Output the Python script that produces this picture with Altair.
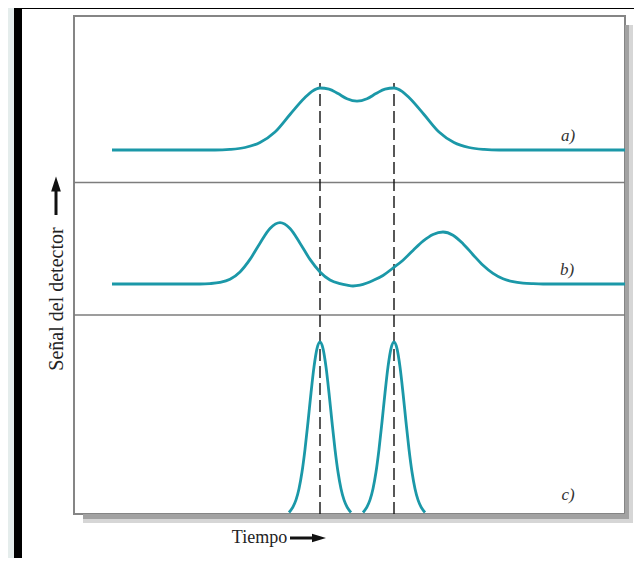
import altair as alt
import pandas as pd

# ---- data (time in arbitrary units, detector signal above each trace's baseline) ----
t_a = [38, 141, 156, 171, 186, 201, 216, 231, 238, 246, 255, 264, 273, 283, 293, 302,
       311, 320, 328, 335, 350, 365, 380, 395, 410, 425, 551]
s_a = [0, 0, 0.6, 2.5, 7.5, 18, 35.5, 52.4, 58.6, 62.0, 60.9, 56.4, 51.3, 48.9, 51.3, 56.4,
       60.9, 62.0, 58.6, 52.4, 35.5, 18, 7.5, 2.5, 0.6, 0, 0]

t_b = [38, 126, 136, 146, 156, 166, 176, 186, 196, 206, 216, 226, 236, 246, 256, 266,
       273, 279, 286, 293, 299, 309, 319, 329, 339, 349, 359, 369, 379, 389, 399, 409,
       419, 429, 439, 449, 459, 469, 551]
s_b = [0, 0, 0.4, 1.6, 4.8, 12.1, 24.6, 40.8, 55.4, 61.3, 55.4, 40.8, 24.6, 12.1, 4.0, 0.3,
       -1.2, -2.0, -1.2, 1.0, 3.5, 8.5, 16.0, 23.8, 33.5, 42.8, 49.5, 52.0, 48.8, 40.3, 29.3, 18.7,
       10.6, 5.2, 2.3, 0.9, 0.3, 0, 0]

t_c1 = [215, 219, 222, 225, 228, 231, 234, 237, 240, 243, 246, 249, 252, 255, 258, 261,
        264, 267, 270, 273, 277]
s_c1 = [1.5, 7.2, 14.1, 25.3, 42.0, 64.7, 92.0, 121.0, 147.1, 165.4, 172, 165.4, 147.1, 121.0,
        92.0, 64.7, 42.0, 25.3, 14.1, 7.2, 1.5]
t_c2 = [289, 293, 296, 299, 302, 305, 308, 311, 314, 317, 320, 323, 326, 329, 332, 335,
        338, 341, 344, 347, 351]
s_c2 = [1.5, 7.2, 14.1, 25.3, 42.0, 64.7, 92.0, 121.0, 147.1, 165.4, 172, 165.4, 147.1, 121.0,
        92.0, 64.7, 42.0, 25.3, 14.1, 7.2, 1.5]

# retention times marked by dashed lines
peak_times = [246, 320]
dash_top = 431

# panel baselines / separators (signal units)
baselines = {"a": 364, "b": 230, "c1": 0, "c2": 0}
separators = [331.5, 199]

labels = ["a)", "b)", "c)"]
label_t = [494, 493, 494]
label_y = [378, 244, 19]

TEAL = "#1b98a8"
W, H = 551, 498
xs = alt.Scale(domain=[0, 551], nice=False, zero=False)
ys = alt.Scale(domain=[0, 498], nice=False, zero=False)

rows = []
for name, ts, ss in [("a", t_a, s_a), ("b", t_b, s_b), ("c1", t_c1, s_c1), ("c2", t_c2, s_c2)]:
    for t, s in zip(ts, ss):
        rows.append({"series": name, "t": t, "y": baselines[name] + s})
df = pd.DataFrame(rows)

one = pd.DataFrame({"k": [0]})


def deco_rect(x, x2, y, y2, color):
    return alt.Chart(one).mark_rect(color=color).encode(
        x=alt.value(x), x2=alt.value(x2), y=alt.value(y), y2=alt.value(y2))


decor = [
    deco_rect(-66, -60, -8, 545, "#e5edec"),
    deco_rect(-60, -52, -8, 545, "#000000"),
    deco_rect(-60, 566, -8, -7, "#000000"),
    # drop shadow of the figure box
    deco_rect(551, 559, 9, 507, "#d6d6d6"),
    deco_rect(9, 559, 498, 507, "#d6d6d6"),
    deco_rect(551, 555, 9, 503, "#a2a2a2"),
    deco_rect(9, 555, 498, 503, "#a2a2a2"),
]

sep = alt.Chart(pd.DataFrame({"y": separators})).mark_rule(
    color="#7d7d7d", strokeWidth=1.6).encode(y=alt.Y("y:Q", scale=ys, axis=None))

dashes = alt.Chart(pd.DataFrame({"t": peak_times, "y0": [0, 0], "y1": [dash_top, dash_top]})).mark_rule(
    color="#111111", strokeWidth=1.4, strokeDash=[12, 5]).encode(
    x=alt.X("t:Q", scale=xs, axis=None),
    y=alt.Y("y0:Q", scale=ys, axis=None), y2="y1:Q")

lines = alt.Chart(df).mark_line(
    color=TEAL, strokeWidth=2.8, interpolate="monotone").encode(
    x=alt.X("t:Q", scale=xs, axis=None),
    y=alt.Y("y:Q", scale=ys, axis=None),
    detail="series:N", order="t:Q")

lab = alt.Chart(pd.DataFrame({"t": label_t, "y": label_y, "label": labels})).mark_text(
    font="Liberation Serif", fontStyle="italic", fontSize=17, color="#333333",
    align="center", baseline="middle").encode(
    x=alt.X("t:Q", scale=xs, axis=None), y=alt.Y("y:Q", scale=ys, axis=None), text="label:N")

ytitle = alt.Chart(one).mark_text(
    font="Liberation Serif", fontSize=20, color="#222222", angle=270,
    align="center", baseline="middle").encode(
    x=alt.value(-17), y=alt.value(283), text=alt.value("Señal del detector"))
yshaft = alt.Chart(one).mark_rule(color="#111111", strokeWidth=3).encode(
    x=alt.value(-18), y=alt.value(172), y2=alt.value(199))
yhead = alt.Chart(one).mark_point(
    shape="M-0.65,1L0,-1L0.65,1Z", filled=True, size=225, color="#111111", opacity=1).encode(
    x=alt.value(-18), y=alt.value(168))

xtitle = alt.Chart(one).mark_text(
    font="Liberation Serif", fontSize=18, color="#222222",
    align="center", baseline="alphabetic").encode(
    x=alt.value(185.5), y=alt.value(527), text=alt.value("Tiempo"))
xshaft = alt.Chart(one).mark_rule(color="#111111", strokeWidth=3).encode(
    x=alt.value(216), x2=alt.value(242), y=alt.value(522))
xhead = alt.Chart(one).mark_point(
    shape="M-1,-0.6L1,0L-1,0.6Z", filled=True, size=196, color="#111111", opacity=1).encode(
    x=alt.value(245), y=alt.value(522))

chart = alt.layer(
    *decor, sep, dashes, lines, lab, ytitle, yshaft, yhead, xtitle, xshaft, xhead
).properties(
    width=W, height=H,
    autosize=alt.AutoSizeParams(type="none"),
    padding={"left": 66, "top": 8, "right": 9, "bottom": 44},
    background="white",
).configure_view(stroke="#858585", strokeWidth=2)

chart.save("out.html", embed_options={"renderer": "svg", "actions": False})
